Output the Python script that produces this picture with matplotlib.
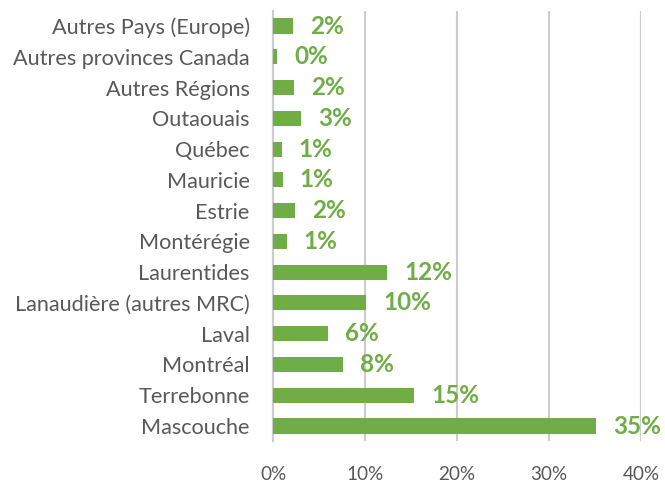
import numpy as np
import matplotlib
matplotlib.use("Agg")
import matplotlib.pyplot as plt

# data, top to bottom as in the chart
regions = ["Autres Pays (Europe)", "Autres provinces Canada", "Autres Régions",
           "Outaouais", "Québec", "Mauricie", "Estrie", "Montérégie",
           "Laurentides", "Lanaudière (autres MRC)", "Laval", "Montréal",
           "Terrebonne", "Mascouche"]
shares = [2.1, 0.4, 2.3, 3.0, 0.9, 1.0, 2.4, 1.45,
          12.4, 10.1, 6.0, 7.55, 15.3, 35.1]
xticks = [0, 10, 20, 30, 40]

green = "#70AD47"
gray_txt = "#595959"

plt.rcParams['font.family'] = ['Lato', 'DejaVu Sans']

fig = plt.figure(figsize=(6.65, 4.84), dpi=100)
ax = fig.add_axes([0.411, 0.088, 0.553, 0.890])

y = np.arange(len(regions))
ax.barh(y, shares, height=0.49, color=green, zorder=3)

for yi, v in zip(y, shares):
    ax.text(v + 1.85, yi, "%d%%" % round(v), va="center", ha="left",
            color=green, fontsize=17.5, fontweight="bold", zorder=4)

ax.set_ylim(len(regions) - 0.5, -0.5)
ax.set_xlim(0, 40)
ax.set_yticks(y)
ax.set_yticklabels(regions, fontsize=15.6, color=gray_txt)
ax.set_xticks(xticks)
ax.set_xticklabels(["%d%%" % t for t in xticks], fontsize=13.6, color=gray_txt)
ax.tick_params(axis="both", length=0)
ax.tick_params(axis="y", pad=17)
ax.tick_params(axis="x", pad=17.5)

ax.grid(axis="x", color="#CCCCCC", linewidth=1.5, zorder=0)
for s in ["top", "right", "bottom"]:
    ax.spines[s].set_visible(False)
ax.spines["left"].set_color("#CCCCCC")
ax.spines["left"].set_linewidth(1.5)

fig.savefig("out.png", dpi=100)
